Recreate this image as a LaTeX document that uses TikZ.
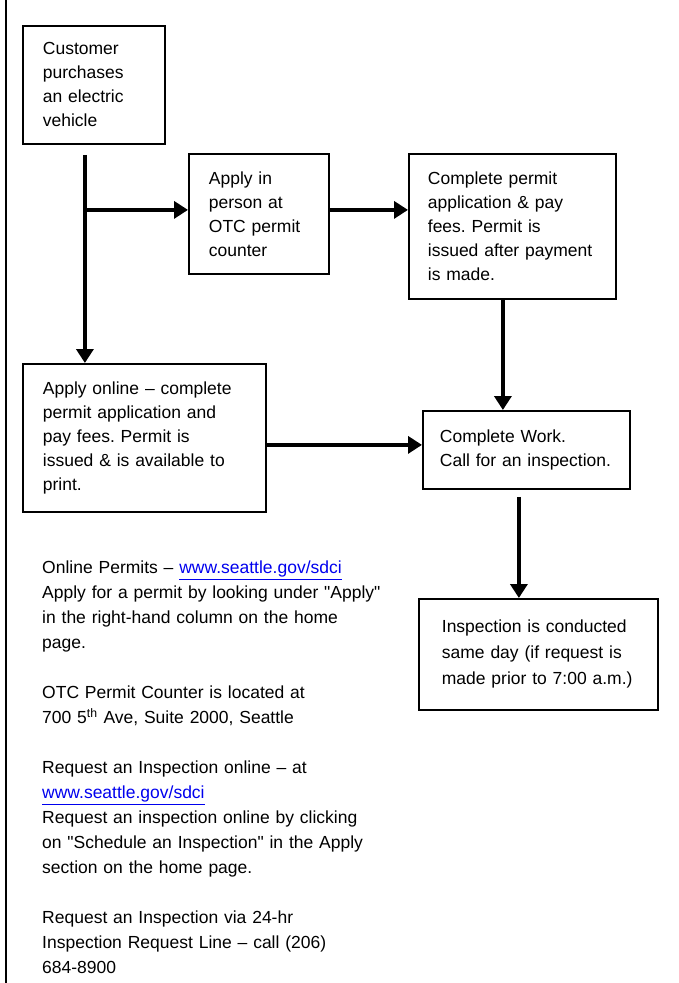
\documentclass[tikz,border=0pt]{standalone}
\usepackage{fontspec}
\setmainfont{Liberation Sans}[Ligatures=TeXOff]
\usetikzlibrary{arrows.meta,calc}
\definecolor{linkblue}{RGB}{0,0,238}
\newcommand\weblink[1]{\textcolor{linkblue}{\underline{#1}}}
\frenchspacing
\begin{document}
\begin{tikzpicture}[x=1pt,y=-1pt,
  box/.style={draw, line width=1.8pt, anchor=north west, inner xsep=20pt, inner ysep=0pt,
    align=left, font=\fontsize{17.5}{24}\selectfont},
  arr/.style={line width=4pt, -{Triangle[length=14pt,width=17pt]}},
]
\useasboundingbox (0,0) rectangle (678,983);
\draw[line width=2pt] (6,0) -- (6,983);

\node[box, text width=102pt, minimum width=142pt, minimum height=118pt] (buy) at (22,25)
  {Customer\\purchases\\an electric\\vehicle};
\node[box, text width=100pt, minimum width=140pt, minimum height=120pt] (inperson) at (188,153)
  {Apply in\\person at\\OTC permit\\counter};
\node[box, inner xsep=19pt, text width=169pt, minimum width=207pt, minimum height=145pt] (complete) at (408,153)
  {Complete permit\\application \& pay\\fees. Permit is\\issued after payment\\is made.};
\node[box, inner xsep=17pt, text width=173pt, minimum width=207pt, minimum height=78pt] (work) at (422,410)
  {Complete Work.\\Call for an inspection.};
\node[box, text width=203pt, minimum width=243pt, minimum height=148pt] (online) at (22,363)
  {Apply online – complete\\permit application and\\pay fees. Permit is\\issued \& is available to\\print.};
\node[box, inner xsep=23pt, text width=193pt, minimum width=239pt, minimum height=111pt,
  font=\fontsize{17.5}{26}\selectfont] (insp) at (418,598)
  {Inspection is conducted\\same day (if request is\\made prior to 7:00 a.m.)\\[4pt]};

\node[anchor=north west, inner sep=0pt, align=left, text width=380pt,
  font=\fontsize{17.5}{25}\selectfont] (notes) at (42,561)
  {Online Permits – \weblink{www.seattle.gov/sdci}\\
   Apply for a permit by looking under "Apply"\\
   in the right-hand column on the home\\
   page.\\[25pt]
   OTC Permit Counter is located at\\
   700 5\textsuperscript{th} Ave, Suite 2000, Seattle\\[25pt]
   Request an Inspection online – at\\
   \weblink{www.seattle.gov/sdci}\\
   Request an inspection online by clicking\\
   on "Schedule an Inspection" in the Apply\\
   section on the home page.\\[25pt]
   Request an Inspection via 24-hr\\
   Inspection Request Line – call (206)\\
   684-8900};

\path ([xshift=-9pt,yshift=-10pt]buy.south) coordinate (t0);
\path ([yshift=4pt]inperson.west) coordinate (a1);
\path ([yshift=4pt]inperson.east) coordinate (a2);
\path ([xshift=-9.5pt]complete.south) coordinate (a3);
\path ([yshift=-7pt]online.east) coordinate (a4);
\path ([xshift=-7.5pt,yshift=-7pt]work.south) coordinate (a5);

\draw[arr] (t0) -- (t0 |- online.north);
\draw[arr] (t0 |- a1) -- (a1);
\draw[arr] (a2) -- (a2 -| complete.west);
\draw[arr] (a3) -- (a3 |- work.north);
\draw[arr] (a4) -- (a4 -| work.west);
\draw[arr] (a5) -- (a5 |- insp.north);
\end{tikzpicture}
\end{document}
